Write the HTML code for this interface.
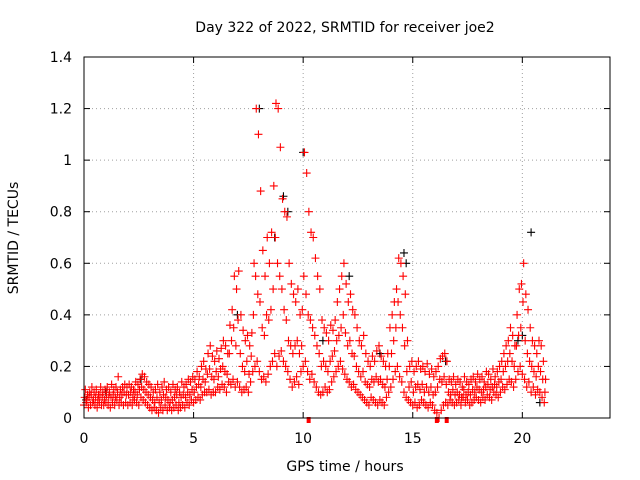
<!DOCTYPE html>
<html><head><meta charset="utf-8"><style>
body{margin:0;background:#fff;}
svg{display:block;font-family:"DejaVu Sans","Liberation Sans",sans-serif;}
</style></head><body>
<svg id="chart" width="640" height="480">
<text x="345" y="32" font-size="14" text-anchor="middle">Day 322 of 2022, SRMTID for receiver joe2</text>
<text x="345" y="471" font-size="14" text-anchor="middle">GPS time / hours</text>
<text transform="translate(18,238) rotate(-90)" font-size="14" text-anchor="middle">SRMTID / TECUs</text>
<g id="grid"></g><g id="ticks"></g><g id="black"></g><g id="red"></g>
<rect x="84" y="57" width="526" height="361" fill="none" stroke="#000" stroke-width="1"/>
</svg>
<script>
const xTicks=[0,5,10,15,20];
const yTicks=[0,0.2,0.4,0.6,0.8,1,1.2,1.4];
const yTickLabels=["0","0.2","0.4","0.6","0.8","1","1.2","1.4"];
const slotHours=0.1;
const redHi=[.11,.09,.10,.12,.10,.11,.09,.12,.10,.11,.12,.10,.13,.11,.12,.16,.11,.12,.13,.12,.13,.12,.11,.14,.13,.15,.17,.16,.14,.13,.12,.10,.11,.13,.10,.12,.14,.11,.12,.10,.13,.11,.12,.10,.14,.12,.13,.15,.14,.16,.15,.18,.16,.20,.22,.19,.25,.28,.24,.22,.26,.23,.27,.30,.28,.25,.36,.42,.55,.50,.57,.40,.34,.30,.32,.28,.33,.60,1.20,1.10,.88,.65,.55,.70,.60,.72,.90,1.22,1.20,1.05,.85,.80,.78,.60,.52,.48,.45,.50,.40,.42,1.03,.95,.80,.72,.70,.62,.55,.50,.38,.35,.33,.30,.36,.34,.38,.45,.50,.55,.60,.52,.45,.48,.42,.40,.35,.30,.28,.32,.25,.22,.20,.24,.22,.26,.28,.24,.22,.20,.25,.35,.40,.45,.50,.62,.60,.55,.48,.30,.20,.22,.18,.20,.22,.19,.20,.18,.21,.17,.19,.16,.18,.20,.23,.24,.25,.22,.15,.14,.16,.13,.15,.14,.12,.16,.14,.13,.15,.16,.14,.17,.15,.16,.14,.18,.17,.15,.19,.16,.18,.20,.22,.25,.28,.30,.35,.32,.28,.40,.50,.52,.60,.48,.42,.35,.30,.28,.25,.30,.28,.22,.15];
const redMid=[.08,.07,.08,.09,.07,.08,.07,.09,.08,.07,.09,.08,.08,.09,.08,.10,.08,.09,.10,.09,.09,.10,.08,.10,.09,.11,.12,.11,.10,.09,.08,.07,.06,.08,.06,.07,.09,.08,.07,.06,.07,.08,.09,.06,.08,.09,.08,.10,.09,.11,.10,.12,.13,.12,.15,.14,.17,.19,.16,.15,.18,.16,.19,.20,.18,.17,.25,.30,.35,.28,.38,.25,.20,.18,.22,.17,.24,.40,.55,.48,.45,.35,.32,.40,.38,.42,.50,.70,.60,.55,.50,.42,.38,.30,.28,.25,.28,.30,.25,.28,.55,.48,.40,.38,.35,.32,.28,.25,.20,.22,.20,.18,.22,.24,.26,.30,.32,.35,.40,.33,.28,.30,.25,.24,.20,.18,.16,.18,.14,.13,.12,.15,.14,.16,.14,.15,.13,.12,.15,.20,.25,.30,.35,.45,.40,.35,.28,.18,.12,.14,.10,.12,.13,.11,.13,.10,.12,.10,.12,.09,.10,.12,.15,.14,.16,.13,.10,.09,.11,.09,.10,.09,.08,.11,.09,.10,.09,.11,.10,.12,.11,.10,.11,.12,.13,.11,.12,.13,.12,.14,.15,.18,.20,.22,.25,.22,.20,.28,.32,.35,.45,.30,.25,.22,.20,.18,.16,.20,.18,.15,.10];
const redLo=[.05,.06,.04,.05,.06,.05,.04,.06,.05,.05,.06,.05,.04,.06,.05,.07,.05,.06,.05,.06,.05,.06,.05,.07,.06,.05,.08,.07,.06,.05,.04,.03,.04,.03,.02,.04,.03,.05,.03,.04,.03,.04,.05,.03,.04,.05,.04,.06,.05,.07,.06,.07,.08,.07,.09,.10,.10,.11,.09,.10,.10,.12,.11,.13,.12,.10,.14,.13,.15,.12,.14,.12,.10,.11,.12,.10,.14,.18,.20,.22,.18,.15,.16,.14,.17,.20,.22,.25,.20,.24,.26,.22,.20,.18,.15,.12,.14,.16,.13,.18,.20,.22,.18,.15,.17,.14,.12,.10,.09,.10,.12,.10,.11,.14,.16,.18,.20,.22,.19,.17,.15,.14,.12,.13,.11,.10,.09,.08,.07,.06,.05,.08,.07,.06,.05,.07,.06,.05,.08,.10,.12,.15,.18,.20,.16,.14,.10,.08,.07,.06,.05,.06,.04,.05,.07,.06,.05,.04,.06,.05,.03,.02,.00,.03,.05,.06,.05,.07,.06,.05,.06,.07,.05,.08,.06,.07,.05,.06,.07,.08,.07,.06,.08,.07,.09,.08,.07,.10,.09,.08,.10,.12,.11,.13,.15,.14,.12,.15,.18,.20,.17,.15,.12,.14,.10,.12,.09,.11,.10,.08,.06];
const blackT=[0.1,1.0,2.6,7.0,8.0,8.7,9.1,9.3,10.0,10.9,12.1,13.5,14.6,14.7,16.5,19.8,20.0,20.4,20.8];
const blackV=[0.07,0.10,0.15,0.40,1.20,0.70,0.86,0.80,1.03,0.30,0.55,0.25,0.64,0.60,0.22,0.30,0.32,0.72,0.06];
const zeroT=[10.25,16.1,16.55];
const zeroV=[0,0,0];

const X=h=>84+h*526/24, Y=v=>418-v*361/1.4;
const NS="http://www.w3.org/2000/svg";
function mk(tag,attrs,parent){const e=document.createElementNS(NS,tag);for(const k in attrs)e.setAttribute(k,attrs[k]);parent.appendChild(e);return e;}
const grid=document.getElementById('grid'),ticks=document.getElementById('ticks');
xTicks.forEach(t=>{
  const g=mk('line',{x1:X(t),x2:X(t),y1:57,y2:418,stroke:'#a0a0a0','stroke-dasharray':'1,3'},grid);
  
  
  mk('line',{x1:X(t),x2:X(t),y1:418,y2:412,stroke:'#000'},ticks);
  mk('line',{x1:X(t),x2:X(t),y1:57,y2:63,stroke:'#000'},ticks);
  const l=mk('text',{x:X(t),y:443,'font-size':14,'text-anchor':'middle'},ticks);l.textContent=t;
  
  
});
yTicks.forEach((t,i)=>{
  const g=mk('line',{x1:84,x2:610,y1:Y(t),y2:Y(t),stroke:'#a0a0a0','stroke-dasharray':'1,3'},grid);
  
  
  mk('line',{x1:84,x2:90,y1:Y(t),y2:Y(t),stroke:'#000'},ticks);
  mk('line',{x1:604,x2:610,y1:Y(t),y2:Y(t),stroke:'#000'},ticks);
  const l=mk('text',{x:72,y:Y(t)+5,'font-size':14,'text-anchor':'end'},ticks);l.textContent=yTickLabels[i];
  
  
});
function plus(h,v,color,parent){
  const x=X(h),y=Y(v);
  const p=mk('path',{d:`M${x-4} ${y}h8M${x} ${y-4}v8`,stroke:color,'stroke-width':1.1,fill:'none'},parent);
  
  
}
const black=document.getElementById('black'),red=document.getElementById('red');
blackT.forEach((t,i)=>plus(t,blackV[i],'#000',black));
[[redLo,0],[redMid,0.03],[redHi,0.06]].forEach(([arr,off])=>arr.forEach((v,i)=>plus(i*slotHours+off,v,'#f00',red)));
zeroT.forEach((t,i)=>{
  const r=mk('rect',{x:X(t)-2,y:Y(zeroV[i])-1,width:4,height:6,fill:'#f00'},red);
  
  
});
</script>
</body></html>
